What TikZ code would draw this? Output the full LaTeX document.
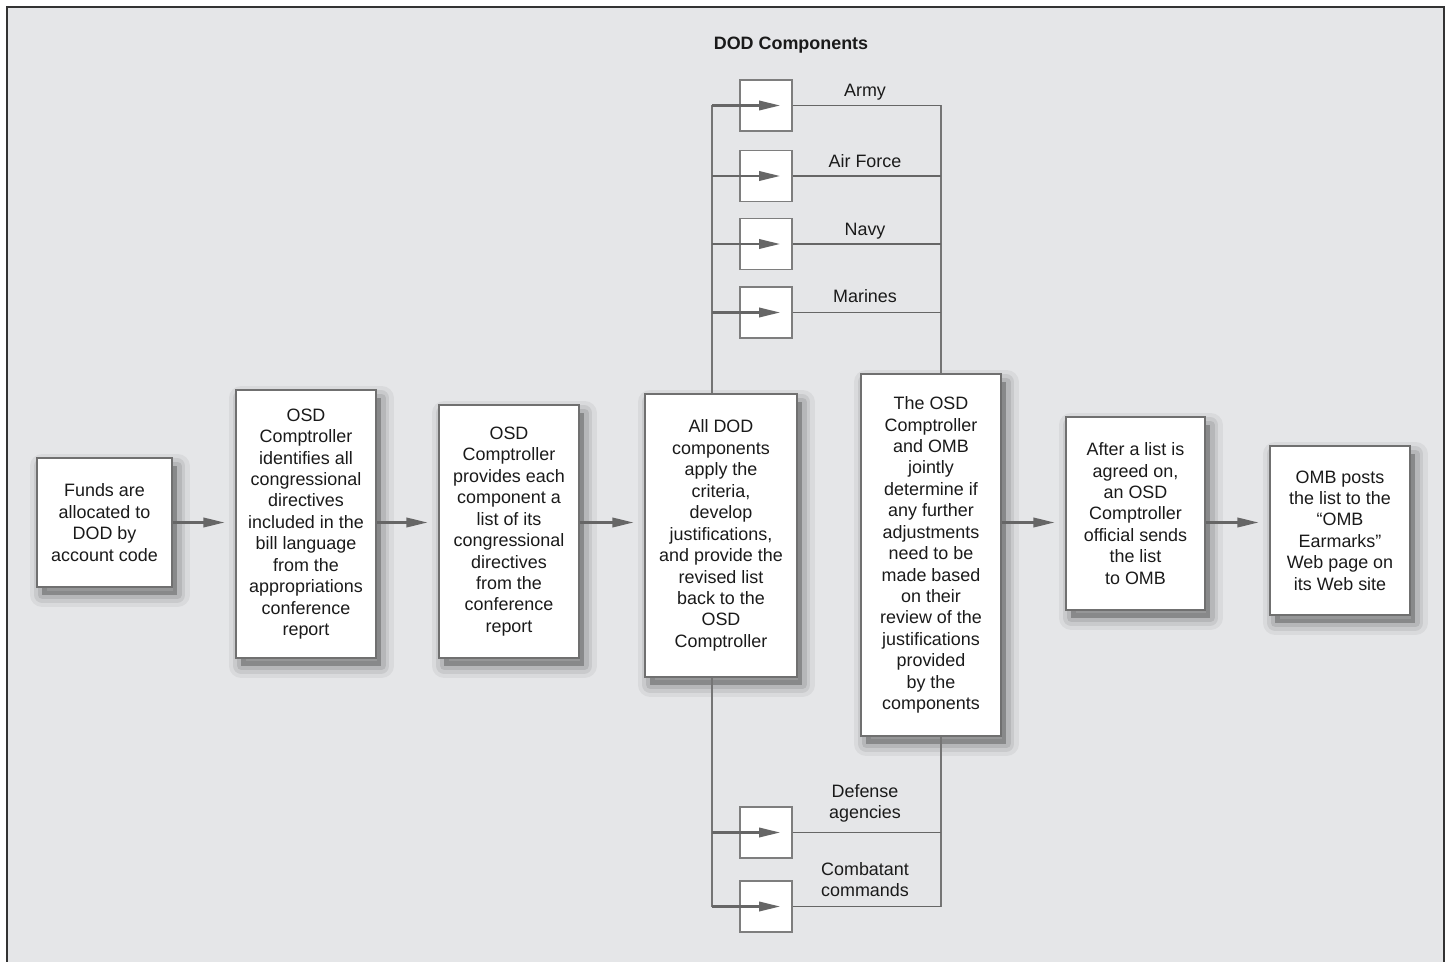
\documentclass[tikz,border=0pt]{standalone}
\usepackage{fontspec}
\setmainfont{Liberation Sans}
\usetikzlibrary{arrows.meta}

\definecolor{panelgray}{HTML}{E5E6E8}
\definecolor{linegray}{HTML}{666666}
\definecolor{boxedge}{HTML}{707070}
\definecolor{textblack}{HTML}{1A1A1A}

\begin{document}
\begin{tikzpicture}[
  x=0.02cm, y=-0.02cm,
  font=\fontsize{10.2}{12.2}\selectfont, text=textblack,
  softshadow/.style={
    preaction={draw=black, opacity=0.05, line width=14pt, line join=round, transform canvas={xshift=3pt,yshift=-4.5pt}},
    preaction={draw=black, opacity=0.07, line width=9pt, line join=round, transform canvas={xshift=3pt,yshift=-4.5pt}},
    preaction={draw=black, opacity=0.09, line width=5pt, line join=round, transform canvas={xshift=3pt,yshift=-4.5pt}},
    preaction={fill=black, opacity=0.25, transform canvas={xshift=3pt,yshift=-4.5pt}}},
  stepbox/.style={softshadow, draw=boxedge, line width=0.7pt, fill=white, align=center, inner sep=2pt},
  compbox/.style={draw=boxedge!90, line width=0.7pt, fill=white,
    minimum width=1.04cm, minimum height=1.02cm, inner sep=0pt},
  complabel/.style={align=center, inner sep=0pt},
  flow/.style={-{Triangle[length=0.42cm,width=0.19cm]}, line width=1.2pt, draw=linegray},
  mainflow/.style={flow, shorten >=0.22cm},
  rowline/.style={line width=1.1pt, draw=linegray},
  vline/.style={line width=0.8pt, draw=linegray!90},
]

% Panel
\useasboundingbox (0,0) rectangle (1449,962);
\fill[panelgray] (7,7) rectangle (1444,962);
\draw[line width=1.2pt, black!80] (7,962) -- (7,7) -- (1444,7) -- (1444,962);

% Process steps
\node[stepbox, minimum width=2.7cm, minimum height=2.58cm] (funds) at (104.5,522.5)
  {Funds are\\allocated to\\DOD by\\account code};
\node[stepbox, minimum width=2.8cm, minimum height=5.36cm] (identify) at (306,524)
  {OSD\\Comptroller\\identifies all\\congressional\\directives\\included in the\\bill language\\from the\\appropriations\\conference\\report};
\node[stepbox, minimum width=2.8cm, minimum height=5.06cm] (provide) at (509,531.5)
  {OSD\\Comptroller\\provides each\\component a\\list of its\\congressional\\directives\\from the\\conference\\report};
\node[stepbox, minimum width=3.04cm, minimum height=5.66cm] (apply) at (721,535.5)
  {All DOD\\components\\apply the\\criteria,\\develop\\justifications,\\and provide the\\revised list\\back to the\\OSD\\Comptroller};
\node[stepbox, minimum width=2.8cm, minimum height=7.24cm] (review) at (931,555)
  {The OSD\\Comptroller\\and OMB\\jointly\\determine if\\any further\\adjustments\\need to be\\made based\\on their\\review of the\\justifications\\provided\\by the\\components};
\node[stepbox, minimum width=2.78cm, minimum height=3.86cm] (send) at (1135.5,513.5)
  {After a list is\\agreed on,\\an OSD\\Comptroller\\official sends\\the list\\to OMB};
\node[stepbox, minimum width=2.8cm, minimum height=3.38cm] (post) at (1340,530.5)
  {OMB posts\\the list to the\\“OMB\\Earmarks”\\Web page on\\its Web site};

% Flow between steps
\draw[mainflow] (funds.east) -- (identify.west |- funds.east);
\draw[mainflow] (identify.east |- funds.east) -- (provide.west |- funds.east);
\draw[mainflow] (provide.east |- funds.east) -- (apply.west |- funds.east);
\draw[mainflow] (review.east |- funds.east) -- (send.west |- funds.east);
\draw[mainflow] (send.east |- funds.east) -- (post.west |- funds.east);

% DOD components
\node[font=\fontsize{10.2}{12.2}\selectfont\bfseries, anchor=base] (title) at (791,50) {DOD Components};

\node[compbox] (army) at (766,105.5) {};
\node[compbox] (airforce) at (766,176) {};
\node[compbox] (navy) at (766,244) {};
\node[compbox] (marines) at (766,312.5) {};
\node[compbox] (agencies) at (766,832.5) {};
\node[compbox] (combatant) at (766,906.5) {};

\coordinate (ltop) at (712,105.5);
\coordinate (rtop) at (941,105.5);
\coordinate (lbot) at (712,906.5);
\coordinate (rbot) at (941,906.5);

\draw[vline] (ltop) -- (ltop |- apply.north);
\draw[vline] (lbot) -- (lbot |- apply.south);
\draw[vline] (rtop) -- (rtop |- review.north);
\draw[vline] (rbot) -- (rbot |- review.south);

\foreach \c in {army,airforce,navy,marines,agencies,combatant} {
  \draw[flow] (ltop |- \c) -- ([xshift=0.28cm]\c.center);
  \draw[rowline] (\c.east) -- (\c.east -| rtop);
}

\node[complabel, anchor=base] (armylbl) at (865,97) {Army};
\node[complabel, anchor=base] (airforcelbl) at (865,168) {Air Force};
\node[complabel, anchor=base] (navylbl) at (865,236) {Navy};
\node[complabel, anchor=base] (marineslbl) at (865,303) {Marines};
\node[complabel, anchor=south] (agencieslbl) at (865,823) {Defense\\agencies};
\node[complabel, anchor=south] (combatantlbl) at (865,897) {Combatant\\commands};

\end{tikzpicture}
\end{document}
